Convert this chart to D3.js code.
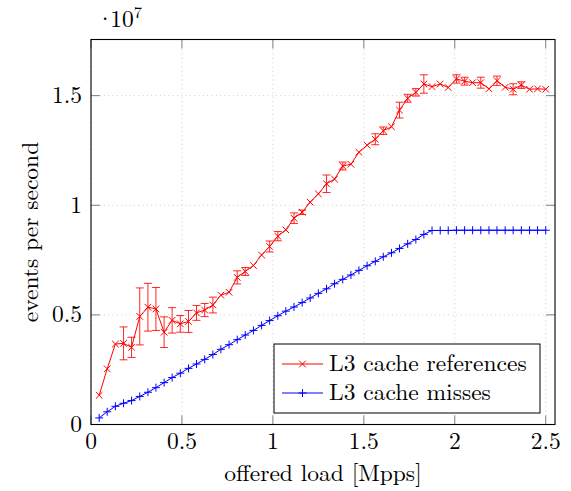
<!DOCTYPE html>
<html>
<head>
<meta charset="utf-8">
<script src="https://cdn.jsdelivr.net/npm/d3@7"></script>
</head>
<body style="margin:0;background:#fff">
<svg id="chart" width="571" height="491"></svg>
<script>
// offered load in Mpps
const loads = [0.045, 0.089, 0.134, 0.179, 0.223, 0.268, 0.313, 0.357, 0.402, 0.446,
  0.491, 0.536, 0.580, 0.625, 0.670, 0.714, 0.759, 0.804, 0.848, 0.893,
  0.938, 0.982, 1.027, 1.071, 1.116, 1.161, 1.205, 1.250, 1.295, 1.339,
  1.384, 1.429, 1.473, 1.518, 1.563, 1.607, 1.652, 1.696, 1.741, 1.786,
  1.830, 1.875, 1.920, 1.964, 2.009, 2.054, 2.098, 2.143, 2.188, 2.232,
  2.277, 2.321, 2.366, 2.411, 2.455, 2.500];

// events per second, in units of 10^7
const references = [0.133, 0.254, 0.367, 0.370, 0.352, 0.493, 0.535, 0.527, 0.421, 0.475,
  0.459, 0.470, 0.509, 0.522, 0.545, 0.590, 0.603, 0.671, 0.698, 0.725,
  0.773, 0.812, 0.859, 0.888, 0.941, 0.968, 1.014, 1.052, 1.098, 1.119,
  1.179, 1.187, 1.242, 1.274, 1.301, 1.340, 1.358, 1.434, 1.488, 1.515,
  1.553, 1.541, 1.553, 1.537, 1.576, 1.566, 1.559, 1.559, 1.531, 1.568,
  1.538, 1.529, 1.548, 1.529, 1.531, 1.529];

const referencesErr = [0, 0, 0, 0.075, 0.046, 0.13, 0.109, 0.098, 0.07, 0.058,
  0.038, 0.05, 0.034, 0.03, 0.036, 0, 0, 0.03, 0.018, 0,
  0, 0.025, 0.021, 0, 0.024, 0.01, 0, 0, 0.04, 0,
  0.018, 0, 0, 0, 0.025, 0.017, 0, 0.036, 0.018, 0.017,
  0.042, 0, 0, 0, 0.019, 0.018, 0, 0.025, 0, 0.021,
  0, 0.025, 0.015, 0, 0, 0];

const misses = [0.030, 0.058, 0.083, 0.097, 0.109, 0.128, 0.147, 0.168, 0.191, 0.214,
  0.234, 0.256, 0.276, 0.297, 0.319, 0.343, 0.364, 0.387, 0.408, 0.429,
  0.452, 0.474, 0.496, 0.517, 0.536, 0.556, 0.577, 0.598, 0.619, 0.642,
  0.662, 0.682, 0.703, 0.724, 0.744, 0.765, 0.783, 0.803, 0.824, 0.844,
  0.867, 0.885, 0.885, 0.885, 0.886, 0.886, 0.886, 0.886, 0.886, 0.886,
  0.886, 0.886, 0.886, 0.886, 0.886, 0.886];

const xTicks = [0, 0.5, 1, 1.5, 2, 2.5];
const yTicks = [0, 0.5, 1, 1.5];

const margin = {top: 39.5, right: 16, bottom: 66.5, left: 91};
const width = 571, height = 491;
const svg = d3.select("#chart");

const x = d3.scaleLinear().domain([0, 2.551]).range([margin.left, width - margin.right]);
const y = d3.scaleLinear().domain([0, 1.756]).range([height - margin.bottom, margin.top]);

const fontSize = 23.5;
const serif = '"Latin Modern Roman", "Liberation Serif", serif';
const label = sel => sel.style("font-family", serif).style("font-size", fontSize + "px").attr("fill", "#000");

// grid
const grid = svg.append("g")
  .attr("stroke", "#c8c8c8").attr("stroke-width", 0.9).attr("stroke-dasharray", "1 3.3");
grid.selectAll(".gx").data(xTicks).join("line")
  .attr("x1", d => x(d)).attr("x2", d => x(d))
  .attr("y1", y.range()[0]).attr("y2", y.range()[1]);
grid.selectAll(".gy").data(yTicks).join("line")
  .attr("y1", d => y(d)).attr("y2", d => y(d))
  .attr("x1", x.range()[0]).attr("x2", x.range()[1]);

// tick marks inside on all four sides
const tickLen = 9;
const ticks = svg.append("g").attr("stroke", "#808080").attr("stroke-width", 1);
xTicks.forEach(t => {
  ticks.append("line").attr("x1", x(t)).attr("x2", x(t))
    .attr("y1", y.range()[0]).attr("y2", y.range()[0] - tickLen);
  ticks.append("line").attr("x1", x(t)).attr("x2", x(t))
    .attr("y1", y.range()[1]).attr("y2", y.range()[1] + tickLen);
});
yTicks.forEach(t => {
  ticks.append("line").attr("y1", y(t)).attr("y2", y(t))
    .attr("x1", x.range()[0]).attr("x2", x.range()[0] + tickLen);
  ticks.append("line").attr("y1", y(t)).attr("y2", y(t))
    .attr("x1", x.range()[1]).attr("x2", x.range()[1] - tickLen);
});

// tick labels
svg.append("g").selectAll("text").data(xTicks).join("text")
  .call(label)
  .attr("x", d => x(d)).attr("y", 449)
  .attr("text-anchor", "middle")
  .text(d => d3.format("")(d));
svg.append("g").selectAll("text").data(yTicks).join("text")
  .call(label)
  .attr("x", 82).attr("y", d => y(d) + 7.5)
  .attr("text-anchor", "end")
  .text(d => d3.format("")(d));

// scale factor
const sf = svg.append("text").call(label).attr("x", 96).attr("y", 27);
sf.append("tspan").text("·");
sf.append("tspan").attr("dx", -4).text("10");
sf.append("tspan").attr("dy", -9).style("font-size", "16.5px").text("7");

// axis titles
svg.append("text").call(label)
  .attr("x", (x.range()[0] + x.range()[1]) / 2).attr("y", 481)
  .attr("text-anchor", "middle").text("offered load [Mpps]");
svg.append("text").call(label)
  .attr("transform", `translate(38,${(y.range()[0] + y.range()[1]) / 2}) rotate(-90)`)
  .attr("text-anchor", "middle").text("events per second");

const red = "#ff0000", blue = "#0000ff";
const refData = loads.map((l, i) => ({x: l, y: references[i], e: referencesErr[i]}));
const missData = loads.map((l, i) => ({x: l, y: misses[i]}));

// error bars
const eb = svg.append("g").attr("stroke", red).attr("stroke-width", 1).attr("stroke-opacity", 0.85);
refData.filter(d => d.e > 0).forEach(d => {
  const cx = x(d.x), y0 = y(d.y - d.e), y1 = y(d.y + d.e);
  eb.append("line").attr("x1", cx).attr("x2", cx).attr("y1", y0).attr("y2", y1);
  eb.append("line").attr("x1", cx - 4).attr("x2", cx + 4).attr("y1", y0).attr("y2", y0);
  eb.append("line").attr("x1", cx - 4).attr("x2", cx + 4).attr("y1", y1).attr("y2", y1);
});

const line = d3.line().x(d => x(d.x)).y(d => y(d.y));

svg.append("path").datum(refData).attr("d", line)
  .attr("fill", "none").attr("stroke", red).attr("stroke-width", 1);
svg.append("path").datum(missData).attr("d", line)
  .attr("fill", "none").attr("stroke", blue).attr("stroke-width", 1);

// markers
const cross = (g, cx, cy, s, c) => {
  g.append("path").attr("d", `M${cx - s},${cy - s}L${cx + s},${cy + s}M${cx - s},${cy + s}L${cx + s},${cy - s}`)
    .attr("stroke", c).attr("stroke-width", 1).attr("fill", "none");
};
const plus = (g, cx, cy, s, c) => {
  g.append("path").attr("d", `M${cx - s},${cy}L${cx + s},${cy}M${cx},${cy - s}L${cx},${cy + s}`)
    .attr("stroke", c).attr("stroke-width", 1).attr("fill", "none");
};
const mk = svg.append("g");
missData.forEach(d => plus(mk, x(d.x), y(d.y), 4, blue));
refData.forEach(d => cross(mk, x(d.x), y(d.y), 3.3, red));

// frame
svg.append("rect")
  .attr("x", x.range()[0]).attr("y", y.range()[1])
  .attr("width", x.range()[1] - x.range()[0]).attr("height", y.range()[0] - y.range()[1])
  .attr("fill", "none").attr("stroke", "#000").attr("stroke-width", 1.1);

// legend
const lg = svg.append("g");
lg.append("rect").attr("x", 274).attr("y", 344).attr("width", 266).attr("height", 69)
  .attr("fill", "#fff").attr("stroke", "#000").attr("stroke-width", 1);
const entries = [
  {label: "L3 cache references", color: red, mark: cross, ly: 364},
  {label: "L3 cache misses", color: blue, mark: plus, ly: 393}
];
entries.forEach(e => {
  lg.append("line").attr("x1", 282).attr("x2", 323).attr("y1", e.ly).attr("y2", e.ly)
    .attr("stroke", e.color).attr("stroke-width", 1);
  e.mark(lg, 302.5, e.ly, e.mark === cross ? 3.3 : 4, e.color);
  lg.append("text").call(label).attr("x", 329).attr("y", e.ly + 7).text(e.label);
});
</script>
</body>
</html>
